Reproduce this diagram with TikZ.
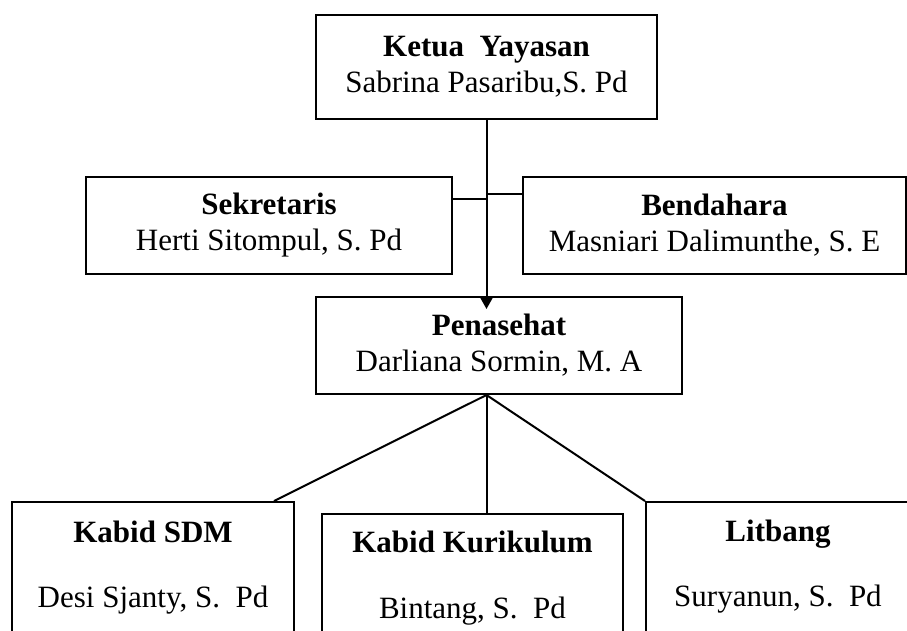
\documentclass[tikz,border=0pt]{standalone}
\usepackage{fontspec}
\setmainfont{Liberation Serif}
\usetikzlibrary{arrows.meta}

\begin{document}
\begin{tikzpicture}[x=1pt,y=-1pt,
    jabatan/.style={draw,rectangle,line width=2pt,align=center,inner sep=0pt,
      font=\fontsize{31}{36}\selectfont},
    garis/.style={line width=2pt}]
  %%Frame
  \useasboundingbox (0,0) rectangle (907,630);
  \clip (0,0) rectangle (907,630);

  %%Top
  \node[jabatan,minimum width=341pt,minimum height=104pt] (ketua) at (486.5,67)
    {\textbf{Ketua\ \ Yayasan}\\Sabrina Pasaribu,S. Pd};
  \node[jabatan,minimum width=366pt,minimum height=97pt] (sekretaris) at (269,225.5)
    {\textbf{Sekretaris}\\Herti Sitompul, S. Pd};
  \node[jabatan,minimum width=383pt,minimum height=97pt] (bendahara) at (714.5,225.5)
    {\textbf{Bendahara}\\Masniari Dalimunthe, S. E};
  \node[jabatan,minimum width=366pt,minimum height=97pt] (penasehat) at (499,345.5)
    {\textbf{Penasehat}\\Darliana Sormin, M. A};

  %%Bottom
  \node[jabatan,minimum width=282pt,minimum height=131pt] (sdm) at (153,567.5)
    {\textbf{Kabid SDM}\\[29pt]Desi Sjanty, S.\ \ Pd};
  \node[jabatan,minimum width=301pt,minimum height=128pt] (kurikulum) at (472.5,578)
    {\textbf{Kabid Kurikulum}\\[30pt]Bintang, S.\ \ Pd};
  \node[jabatan,minimum width=264pt,minimum height=130pt] (litbang) at (778,567)
    {\textbf{Litbang}\\[29pt]Suryanun, S.\ \ Pd};

  %%Lines
  \coordinate (tip) at ([yshift=-13pt]ketua.south |- penasehat.north);
  \draw[garis,-{Triangle[width=14pt,length=13pt]}] (ketua.south) -- (tip);
  \coordinate (sek) at ([yshift=26.5pt]sekretaris.east);
  \coordinate (ben) at ([yshift=31.5pt]bendahara.west);
  \draw[garis] (sek) -- (sek -| ketua.south);
  \draw[garis] (ben) -- (ben -| ketua.south);
  \coordinate (split) at (ketua.south |- penasehat.south);
  \draw[garis] (split) -- ([xshift=-21pt]sdm.north east);
  \draw[garis] (split) -- (split |- kurikulum.north);
  \draw[garis] (split) -- (litbang.north west);
\end{tikzpicture}
\end{document}
